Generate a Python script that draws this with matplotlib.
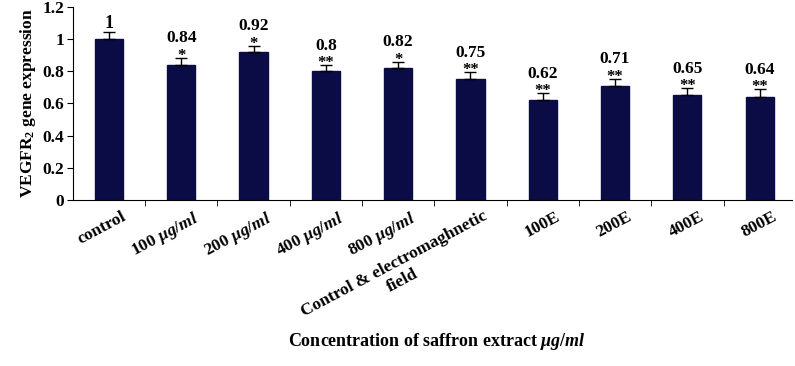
import matplotlib.pyplot as plt
import matplotlib.transforms as mtransforms
import numpy as np

categories = ['control', '100 $\\mathit{\\mu g/ml}$', '200 $\\mathit{\\mu g/ml}$',
              '400 $\\mathit{\\mu g/ml}$', '800 $\\mathit{\\mu g/ml}$',
              'Control & electromaghnetic\nfield', '100E', '200E', '400E', '800E']
values = [1.0, 0.84, 0.92, 0.80, 0.82, 0.75, 0.62, 0.71, 0.65, 0.64]
errors = [0.045, 0.045, 0.04, 0.04, 0.04, 0.045, 0.045, 0.045, 0.045, 0.05]
value_labels = ['1', '0.84', '0.92', '0.8', '0.82', '0.75', '0.62', '0.71', '0.65', '0.64']
stars = ['', '*', '*', '**', '*', '**', '**', '**', '**', '**']

plt.rcParams['font.family'] = ['Liberation Serif', 'DejaVu Serif']
plt.rcParams['font.weight'] = 'bold'
plt.rcParams['mathtext.fontset'] = 'custom'
plt.rcParams['mathtext.rm'] = 'Liberation Serif:bold'
plt.rcParams['mathtext.it'] = 'Liberation Serif:italic:bold'
plt.rcParams['mathtext.bf'] = 'Liberation Serif:bold'

fig = plt.figure(figsize=(7.95, 3.66), dpi=100)
ax = fig.add_axes([0.0915, 0.4536, 0.905, 0.5274])

x = np.arange(len(values))
ax.bar(x, values, width=0.39, color='#0b0b45', edgecolor='#0b0b45', zorder=2)
ax.errorbar(x, values, yerr=[np.zeros(len(values)), errors], fmt='none',
            ecolor='black', elinewidth=1.0, capsize=4, capthick=1.0, zorder=3)

for i in range(len(values)):
    top = values[i] + errors[i]
    if stars[i]:
        ax.annotate(stars[i], (x[i], top), xytext=(0, -1.5), textcoords='offset points',
                    ha='center', va='baseline', fontsize=12, fontweight='bold')
        ax.annotate(value_labels[i], (x[i], top), xytext=(0, 11), textcoords='offset points',
                    ha='center', va='baseline', fontsize=12.5, fontweight='bold')
    else:
        ax.annotate(value_labels[i], (x[i], top), xytext=(0, 2.5), textcoords='offset points',
                    ha='center', va='baseline', fontsize=13, fontweight='bold')

ax.set_xlim(-0.5, 9.45)
ax.set_ylim(0, 1.2)
ax.set_yticks([0, 0.2, 0.4, 0.6, 0.8, 1.0, 1.2])
ax.set_yticklabels(['0', '0.2', '0.4', '0.6', '0.8', '1', '1.2'], fontsize=12.5, fontweight='bold')
ax.set_xticks(x)
ax.set_xticklabels(categories, rotation=28, ha='right', rotation_mode='anchor',
                   fontsize=12.5, fontweight='bold', multialignment='center')
ax.tick_params(axis='x', which='major', length=0, pad=6)
ax.set_xticks(x[:-1] + 0.5, minor=True)
ax.tick_params(axis='x', which='minor', length=4, direction='out')
ax.tick_params(axis='y', length=4, direction='out', pad=2)

shift = mtransforms.ScaledTranslation(0.12, 0, fig.dpi_scale_trans)
for lab in ax.get_xticklabels():
    lab.set_transform(lab.get_transform() + shift)

ax.spines['top'].set_visible(False)
ax.spines['right'].set_visible(False)

ax.set_ylabel('VEGFR$_2$ gene expression', fontsize=12.5, fontweight='bold', labelpad=3)
fig.text(0.55, 0.066, 'Concentration of saffron extract $\\mathit{\\mu g/ml}$',
         ha='center', va='center', fontsize=13, fontweight='bold')

plt.savefig('out.png', dpi=100)
